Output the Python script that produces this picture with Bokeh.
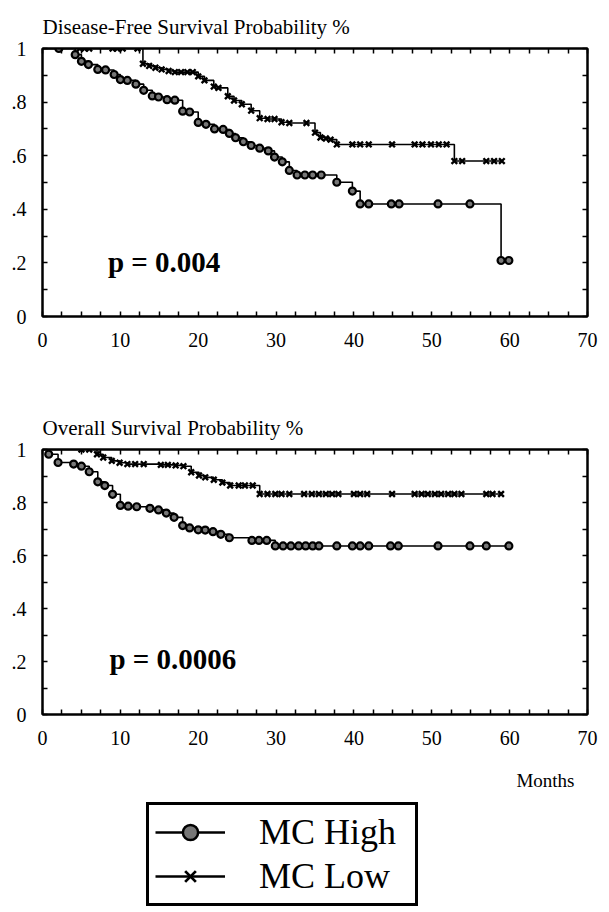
from bokeh.plotting import figure
from bokeh.models import (Range1d, LinearAxis, FixedTicker, CustomJSTickFormatter,
                          Label, Legend, LegendItem)
from bokeh.layouts import column
from bokeh.embed import file_html
from bokeh.resources import INLINE

# ---------------- data ----------------
dfs_high_t = [0, 2.1, 4.2, 5.0, 5.9, 7.1, 8.1, 9.2, 10.0, 10.9, 12.0, 13.0, 14.1, 14.9, 16.0, 17.0,
              18.0, 18.9, 20.0, 21.0, 22.1, 23.2, 24.0, 24.8, 25.8, 26.8, 27.9, 29.0, 29.8, 30.8,
              31.7, 32.7, 33.7, 34.7, 35.8, 37.8, 39.8, 40.8, 41.9, 44.8, 45.8, 50.8, 54.9, 58.9, 59.9]
dfs_high_s = [1.0, 1.0, 0.977, 0.952, 0.940, 0.922, 0.920, 0.903, 0.884, 0.881, 0.867, 0.844, 0.823,
              0.819, 0.809, 0.807, 0.766, 0.763, 0.724, 0.717, 0.700, 0.698, 0.683, 0.667, 0.652,
              0.638, 0.628, 0.618, 0.595, 0.577, 0.545, 0.528, 0.528, 0.528, 0.528, 0.501, 0.468,
              0.420, 0.420, 0.420, 0.420, 0.420, 0.420, 0.209, 0.209]

dfs_low_t = [0, 4.8, 5.4, 6.0, 9.0, 9.6, 10.3, 12.2, 12.9, 13.7, 14.5, 15.3, 16.2, 17.0, 17.8, 18.6,
             19.3, 20.0, 20.8, 22.0, 22.6, 23.8, 24.6, 25.6, 26.8, 27.9, 28.9, 29.8, 30.7, 31.7,
             33.9, 35.0, 35.7, 36.4, 37.0, 37.8, 39.8, 40.8, 41.9, 44.9, 47.8, 48.8, 49.9, 50.9,
             51.9, 52.9, 53.9, 57.0, 58.0, 59.0]
dfs_low_s = [1.0, 1.0, 1.0, 1.0, 1.0, 1.0, 1.0, 1.0, 0.943, 0.935, 0.928, 0.922, 0.916, 0.912, 0.912,
             0.912, 0.912, 0.896, 0.881, 0.858, 0.853, 0.822, 0.806, 0.792, 0.768, 0.740, 0.737,
             0.737, 0.725, 0.722, 0.722, 0.686, 0.668, 0.664, 0.660, 0.642, 0.642, 0.642, 0.642,
             0.642, 0.642, 0.642, 0.642, 0.642, 0.642, 0.580, 0.580, 0.580, 0.580, 0.580]

os_high_t = [0, 0.8, 2.0, 4.0, 5.0, 6.0, 7.1, 8.0, 9.0, 10.0, 11.0, 12.1, 13.8, 14.9, 15.9, 16.9,
             18.0, 18.9, 20.0, 20.9, 21.9, 22.9, 24.0, 26.9, 27.8, 28.8, 29.9, 30.9, 31.9, 32.9,
             33.8, 34.7, 35.5, 37.8, 39.8, 40.8, 41.9, 44.7, 45.7, 50.8, 54.9, 57.0, 59.9]
os_high_s = [1.0, 0.982, 0.951, 0.945, 0.937, 0.916, 0.878, 0.864, 0.831, 0.789, 0.786, 0.784,
             0.778, 0.772, 0.760, 0.744, 0.713, 0.704, 0.697, 0.696, 0.690, 0.680, 0.667, 0.657,
             0.657, 0.657, 0.636, 0.636, 0.636, 0.636, 0.636, 0.636, 0.636, 0.636, 0.636, 0.636,
             0.636, 0.636, 0.636, 0.636, 0.636, 0.636, 0.636]

os_low_t = [0, 5.0, 6.0, 7.0, 7.8, 8.9, 9.9, 10.9, 11.9, 13.0, 15.2, 16.1, 17.1, 18.1, 19.1, 20.1,
            20.9, 22.0, 23.1, 24.1, 25.2, 26.0, 27.0, 27.9, 28.9, 29.9, 30.7, 31.7, 33.6, 34.6,
            35.5, 36.4, 37.2, 38.0, 40.0, 40.8, 41.7, 44.9, 47.8, 48.7, 49.5, 50.4, 51.2, 52.1,
            52.9, 53.8, 57.0, 57.8, 58.9]
os_low_s = [1.0, 1.0, 1.0, 0.982, 0.970, 0.957, 0.950, 0.945, 0.945, 0.945, 0.942, 0.942, 0.940,
            0.937, 0.914, 0.902, 0.895, 0.886, 0.875, 0.864, 0.864, 0.864, 0.864, 0.832, 0.832,
            0.832, 0.832, 0.832, 0.832, 0.832, 0.832, 0.832, 0.832, 0.832, 0.832, 0.832, 0.832,
            0.832, 0.832, 0.832, 0.832, 0.832, 0.832, 0.832, 0.832, 0.832, 0.832, 0.832, 0.832]

x_major = [0, 10, 20, 30, 40, 50, 60, 70]
x_minor = [2.5, 5, 7.5, 12.5, 15, 17.5, 22.5, 25, 27.5, 32.5, 35, 37.5, 42.5, 45, 47.5,
           52.5, 55, 57.5, 62.5, 65, 67.5]
y_major = [0, 0.2, 0.4, 0.6, 0.8, 1]
y_minor = [0.1, 0.3, 0.5, 0.7, 0.9]

series_names = ["MC High", "MC Low"]
titles = ["Disease-Free Survival Probability %", "Overall Survival Probability %"]
p_values = ["p = 0.004", "p = 0.0006"]
x_axis_title = "Months"

SERIF = "Liberation Serif"

HIGH_STYLE = dict(marker="circle", size=7, line_color="black", fill_color="#777777", line_width=2.2)
LOW_STYLE = dict(marker="x", size=8, line_color="black", line_width=2.4)

Y_FMT = CustomJSTickFormatter(code="""
if (Math.abs(tick) < 1e-9) return '0';
if (Math.abs(tick - 1) < 1e-9) return '1';
return tick.toFixed(1).substring(1);
""")
BLANK = CustomJSTickFormatter(code="return '';")


def style_axis(ax, labels=True):
    ax.axis_line_width = 2
    ax.axis_line_color = "black"
    ax.major_tick_in = 5
    ax.major_tick_out = 0
    ax.minor_tick_in = 5
    ax.minor_tick_out = 0
    ax.major_tick_line_width = 1.5
    ax.minor_tick_line_width = 1.5
    ax.major_tick_line_color = "black"
    ax.minor_tick_line_color = "black"
    ax.major_label_text_font = SERIF
    ax.major_label_text_font_size = "20px"
    ax.major_label_text_color = "black"
    ax.major_label_standoff = 16
    if not labels:
        ax.major_label_text_font_size = "0px"
        ax.major_label_standoff = 0
        ax.formatter = BLANK


def km_plot(width, height, left, right, top, bottom, title,
            ht, hs, lt, ls, ptext, px, py, title_standoff):
    p = figure(width=width, height=height, output_backend="svg", toolbar_location=None,
               x_range=Range1d(0, 70), y_range=Range1d(0, 1),
               min_border_left=left, min_border_right=right,
               min_border_top=top, min_border_bottom=bottom,
               background_fill_color="white", border_fill_color="white")
    p.grid.visible = False
    p.outline_line_color = "black"
    p.outline_line_width = 2
    p.outline_line_alpha = 1

    p.title.text = title
    p.title.text_font = SERIF
    p.title.text_font_size = "21px"
    p.title.text_font_style = "normal"
    p.title.text_color = "black"
    p.title.align = "left"
    p.title.standoff = title_standoff

    p.xaxis.ticker = FixedTicker(ticks=x_major, minor_ticks=x_minor)
    p.yaxis.ticker = FixedTicker(ticks=y_major, minor_ticks=y_minor)
    p.yaxis.formatter = Y_FMT
    for ax in p.xaxis:
        style_axis(ax)
    for ax in p.yaxis:
        style_axis(ax)

    top_ax = LinearAxis(ticker=FixedTicker(ticks=x_major, minor_ticks=x_minor))
    right_ax = LinearAxis(ticker=FixedTicker(ticks=y_major, minor_ticks=y_minor))
    style_axis(top_ax, labels=False)
    style_axis(right_ax, labels=False)
    p.add_layout(top_ax, "above")
    p.add_layout(right_ax, "right")

    p.step(x=ht, y=hs, mode="after", line_color="black", line_width=1.6)
    p.scatter(x=ht[1:], y=hs[1:], **HIGH_STYLE)
    p.step(x=lt, y=ls, mode="after", line_color="black", line_width=1.6)
    p.scatter(x=lt[1:], y=ls[1:], **LOW_STYLE)

    p.add_layout(Label(x=px, y=py, text=ptext, text_font=SERIF, text_font_size="29px",
                       text_font_style="bold", text_baseline="middle", text_align="left",
                       text_color="black"))
    return p


# page has no margin in Bokeh's template: coordinates below are page pixels
p1 = km_plot(601, 388, 42, 8, 48, 72, titles[0],
             dfs_high_t, dfs_high_s, dfs_low_t, dfs_low_s, p_values[0], 8.4, 0.205, 20)
p2 = km_plot(601, 372, 40, 14, 61, 46, titles[1],
             os_high_t, os_high_s, os_low_t, os_low_s, p_values[1], 8.6, 0.211, 20)

# bottom panel: axis title and legend
p3 = figure(width=601, height=152, output_backend="svg", toolbar_location=None,
            x_range=Range1d(0, 70), y_range=Range1d(0, 1),
            min_border_left=40, min_border_right=14, min_border_top=0, min_border_bottom=0,
            border_fill_color="white", background_fill_color="white")
p3.axis.visible = False
p3.grid.visible = False
p3.outline_line_color = None

p3.add_layout(Label(x=64.6, y=0.868, text=x_axis_title, text_font=SERIF, text_font_size="19px",
                    text_font_style="normal", text_align="center", text_baseline="middle",
                    text_color="black"))

# legend keys (renderers hidden; only their legend glyphs are shown)
lh = p3.line(x=os_high_t, y=os_high_s, line_color="black", line_width=2.5, visible=False)
mh = p3.scatter(x=os_high_t, y=os_high_s, marker="circle", size=10, line_color="black",
                fill_color="#777777", line_width=2.5, visible=False)
ll = p3.line(x=os_low_t, y=os_low_s, line_color="black", line_width=2.5, visible=False)
ml = p3.scatter(x=os_low_t, y=os_low_s, marker="x", size=11, line_color="black", line_width=2.8,
                visible=False)
legend = Legend(items=[LegendItem(label=series_names[0], renderers=[lh, mh]),
                       LegendItem(label=series_names[1], renderers=[ll, ml])],
                location=(104, 6), orientation="vertical",
                label_text_font=SERIF, label_text_font_size="36px", label_text_color="black",
                label_height=38, glyph_height=38, glyph_width=70, label_standoff=34,
                label_width=150, padding=6, spacing=2, margin=0,
                border_line_color="black", border_line_width=3, border_line_alpha=1,
                background_fill_color="white", background_fill_alpha=1,
                inactive_fill_alpha=0)
p3.add_layout(legend, "center")

layout = column(p1, p2, p3, spacing=0)

with open("out.html", "w") as f:
    f.write(file_html(layout, INLINE))
